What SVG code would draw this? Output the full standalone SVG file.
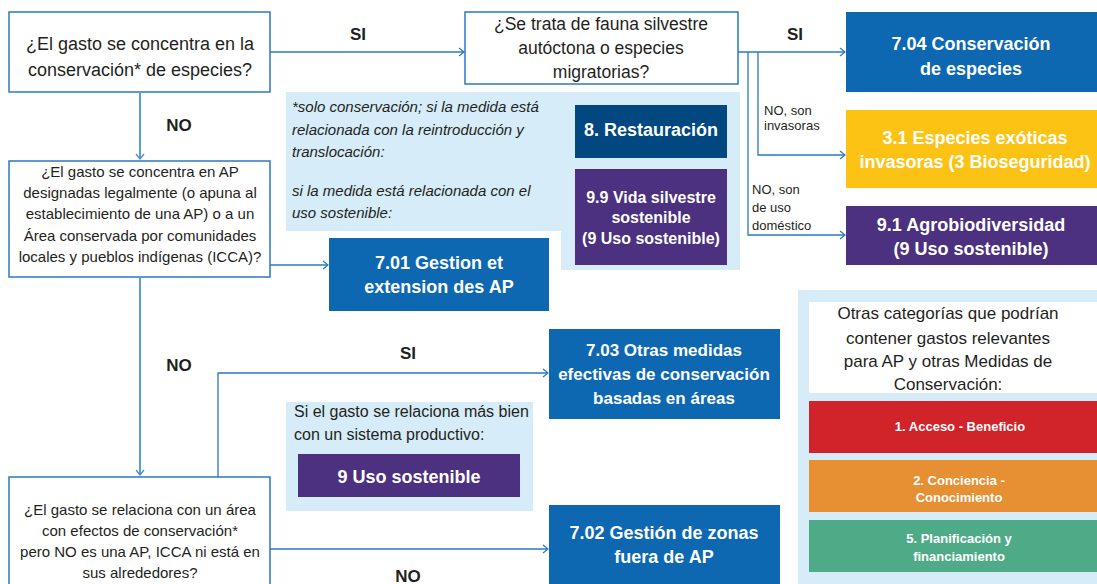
<svg xmlns="http://www.w3.org/2000/svg" width="1097" height="584" viewBox="0 0 1097 584">
<defs>
<marker id="arr" markerWidth="8" markerHeight="10" refX="6" refY="5" orient="auto" markerUnits="userSpaceOnUse">
<path d="M1,1 L6,5 L1,9" fill="none" stroke="#2a78c2" stroke-width="1.2"/>
</marker>
<marker id="arrL" markerWidth="8" markerHeight="10" refX="6" refY="5" orient="auto" markerUnits="userSpaceOnUse">
<path d="M1,1 L6,5 L1,9" fill="none" stroke="#4a90cc" stroke-width="1.4"/>
</marker>
<style>
.q{fill:#fff;stroke:#2a78c2;stroke-width:1.5}
.t{font-family:"Liberation Sans",Arial,sans-serif;fill:#231f20}
.b{font-family:"Liberation Sans",Arial,sans-serif;font-weight:bold;fill:#fff}
.lb{font-family:"Liberation Sans",Arial,sans-serif;font-weight:bold;fill:#231f20;font-size:17px}
.c{stroke:#2a78c2;stroke-width:1.3;fill:none}
.cl{stroke:#5a9ed6;stroke-width:2;fill:none}
.blue{fill:#0d68b1}
.pur{fill:#4b3180}
.pan{fill:#d6ecf8}
</style>
</defs>
<rect width="1097" height="584" fill="#fff"/>

<g id="panel1">
<path class="pan" d="M286,92 H740 V270 H561 V231 H286 Z"/>
<text class="t" font-size="15" font-style="italic" x="292" y="112">*solo conservación; si la medida está</text>
<text class="t" font-size="15" font-style="italic" x="292" y="135">relacionada con la reintroducción y</text>
<text class="t" font-size="15" font-style="italic" x="292" y="157">translocación:</text>
<text class="t" font-size="15" font-style="italic" x="292" y="196">si la medida está relacionada con el</text>
<text class="t" font-size="15" font-style="italic" x="292" y="218">uso sostenible:</text>
</g>
<g id="n8">
<rect x="575" y="105" width="152" height="53" fill="#00487f"/>
<text class="b" font-size="18" x="651" y="136" text-anchor="middle">8. Restauración</text>
</g>
<g id="n99">
<rect class="pur" x="575" y="169" width="152" height="96"/>
<text class="b" font-size="16" text-anchor="middle"><tspan x="651" y="203">9.9 Vida silvestre</tspan><tspan x="651" y="223">sostenible</tspan><tspan x="651" y="244">(9 Uso sostenible)</tspan></text>
</g>

<g id="panel2">
<rect class="pan" x="286" y="402" width="247" height="109"/>
<text class="t" font-size="16" x="294" y="417">Si el gasto se relaciona más bien</text>
<text class="t" font-size="16" x="294" y="440">con un sistema productivo:</text>
</g>
<g id="n9">
<rect class="pur" x="298" y="454" width="222" height="43"/>
<text class="b" font-size="18" x="409" y="483" text-anchor="middle">9 Uso sostenible</text>
</g>

<g id="q1">
<rect class="q" x="9" y="12" width="261" height="80"/>
<text class="t" font-size="18" text-anchor="middle"><tspan x="140" y="50">¿El gasto se concentra en la</tspan><tspan x="140" y="76">conservación* de especies?</tspan></text>
</g>
<g id="q2">
<rect class="q" x="465" y="12" width="273" height="72"/>
<text class="t" font-size="17.5" text-anchor="middle"><tspan x="601" y="30">¿Se trata de fauna silvestre</tspan><tspan x="601" y="54">autóctona o especies</tspan><tspan x="601" y="78">migratorias?</tspan></text>
</g>
<g id="q3">
<rect class="q" x="9" y="161" width="261" height="116"/>
<text class="t" font-size="15" text-anchor="middle"><tspan x="140" y="177">¿El gasto se concentra en AP</tspan><tspan x="140" y="198">designadas legalmente (o apuna al</tspan><tspan x="140" y="219">establecimiento de una AP) o a un</tspan><tspan x="140" y="241">Área conservada por comunidades</tspan><tspan x="140" y="262">locales y pueblos indígenas (ICCA)?</tspan></text>
</g>
<g id="q4">
<rect class="q" x="9" y="477" width="261" height="120"/>
<text class="t" font-size="15" text-anchor="middle"><tspan x="140" y="515">¿El gasto se relaciona con un área</tspan><tspan x="140" y="536">con efectos de conservación*</tspan><tspan x="140" y="557">pero NO es una AP, ICCA ni está en</tspan><tspan x="140" y="578">sus alrededores?</tspan></text>
</g>

<g id="n704">
<rect class="blue" x="846" y="12" width="251" height="80"/>
<text class="b" font-size="18" text-anchor="middle"><tspan x="971" y="50">7.04 Conservación</tspan><tspan x="971" y="75">de especies</tspan></text>
</g>
<g id="n31">
<rect x="846" y="110" width="251" height="78" fill="#fcc314"/>
<text class="b" font-size="18" text-anchor="middle"><tspan x="975" y="144">3.1 Especies exóticas</tspan><tspan x="975" y="168">invasoras (3 Bioseguridad)</tspan></text>
</g>
<g id="n91">
<rect class="pur" x="846" y="206" width="251" height="59"/>
<text class="b" font-size="18" text-anchor="middle"><tspan x="971" y="231">9.1 Agrobiodiversidad</tspan><tspan x="971" y="255">(9 Uso sostenible)</tspan></text>
</g>
<g id="n701">
<rect class="blue" x="329" y="238" width="220" height="73"/>
<text class="b" font-size="18" text-anchor="middle"><tspan x="439" y="269">7.01 Gestion et</tspan><tspan x="439" y="293">extension des AP</tspan></text>
</g>
<g id="n703">
<rect class="blue" x="549" y="329" width="231" height="90"/>
<text class="b" font-size="17" text-anchor="middle"><tspan x="664" y="356">7.03 Otras medidas</tspan><tspan x="664" y="380">efectivas de conservación</tspan><tspan x="664" y="404">basadas en áreas</tspan></text>
</g>
<g id="n702">
<rect class="blue" x="549" y="505" width="231" height="85"/>
<text class="b" font-size="18" text-anchor="middle"><tspan x="664" y="539">7.02 Gestión de zonas</tspan><tspan x="664" y="563">fuera de AP</tspan></text>
</g>

<g id="otras">
<rect class="pan" x="798" y="290" width="305" height="300"/>
<rect x="809" y="302" width="290" height="91" fill="#fff"/>
<text class="t" font-size="17" text-anchor="middle"><tspan x="948" y="319">Otras categorías que podrían</tspan><tspan x="948" y="344">contener gastos relevantes</tspan><tspan x="948" y="367">para AP y otras Medidas de</tspan><tspan x="948" y="390">Conservación:</tspan></text>
</g>
<g id="n1">
<rect x="809" y="401" width="290" height="52" fill="#d0232a"/>
<text class="b" font-size="13" x="960" y="431" text-anchor="middle">1. Acceso - Beneficio</text>
</g>
<g id="n2">
<rect x="809" y="460" width="290" height="52" fill="#e68f33"/>
<text class="b" font-size="13" text-anchor="middle"><tspan x="959" y="485">2. Conciencia -</tspan><tspan x="959" y="502">Conocimiento</tspan></text>
</g>
<g id="n5">
<rect x="809" y="520" width="290" height="52" fill="#4fab87"/>
<text class="b" font-size="13" text-anchor="middle"><tspan x="959" y="543">5. Planificación y</tspan><tspan x="959" y="561">financiamiento</tspan></text>
</g>

<g id="connectors">
<path class="c" d="M270,52 H464" marker-end="url(#arr)"/>
<path class="c" d="M738,52 H845" marker-end="url(#arr)"/>
<path class="c" d="M758,52 V155 H845" marker-end="url(#arr)"/>
<path class="c" d="M748,52 V235 H845" marker-end="url(#arr)"/>
<path class="cl" d="M140,92 V159" marker-end="url(#arrL)"/>
<path class="c" d="M270,265 H328" marker-end="url(#arr)"/>
<path class="cl" d="M140,277 V475" marker-end="url(#arrL)"/>
<path class="c" d="M218,477 V373 H548" marker-end="url(#arr)"/>
<path class="c" d="M270,549 H548" marker-end="url(#arr)"/>
</g>
<g id="labels">
<text class="lb" x="358" y="40" text-anchor="middle">SI</text>
<text class="lb" x="795" y="40" text-anchor="middle">SI</text>
<text class="lb" x="179" y="131" text-anchor="middle">NO</text>
<text class="lb" x="179" y="371" text-anchor="middle">NO</text>
<text class="lb" x="408" y="359" text-anchor="middle">SI</text>
<text class="lb" x="408" y="582" text-anchor="middle">NO</text>
<text class="t" font-size="13"><tspan x="764" y="115">NO, son</tspan><tspan x="764" y="130">invasoras</tspan></text>
<text class="t" font-size="13"><tspan x="752" y="194">NO, son</tspan><tspan x="752" y="212">de uso</tspan><tspan x="752" y="230">doméstico</tspan></text>
</g>
</svg>
